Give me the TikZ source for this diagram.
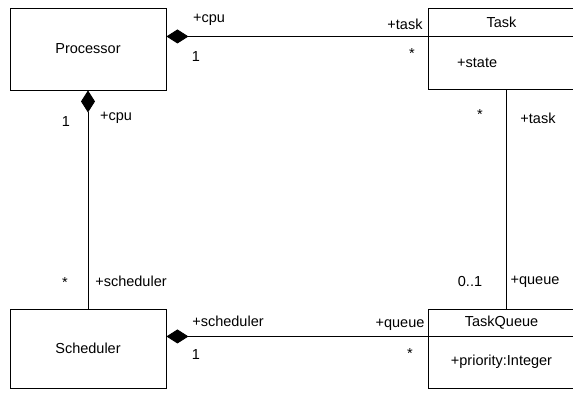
\documentclass[tikz,border=0pt]{standalone}
\usepackage{fontspec}
\setmainfont{Liberation Sans}
\usetikzlibrary{arrows.meta}
\begin{document}
\begin{tikzpicture}[x=1pt,y=-1pt,
  every node/.style={font=\fontsize{14.5}{16}\selectfont, inner sep=0pt},
  cls/.style={draw, line width=0.9pt, rectangle},
  assoc/.style={line width=0.9pt},
  comp/.style={line width=0.9pt, {Diamond[length=22pt,width=14pt]}-}]
\useasboundingbox (0,0) rectangle (573,392);
% classes
\node[cls, minimum width=156pt, minimum height=82pt] (proc) at (88,49) {Processor};
\node[cls, minimum width=156pt, minimum height=79pt] (sched) at (88,348.5) {Scheduler};
\node[cls, minimum width=147pt, minimum height=28pt] (taskh) at (501.5,22) {Task};
\node[cls, minimum width=147pt, minimum height=53pt] (taskb) at (501.5,62.5) {};
\node[anchor=west] (state) at (457,63) {+state};
\node[cls, minimum width=147pt, minimum height=27pt] (tqh) at (501.5,322.5) {TaskQueue};
\node[cls, minimum width=147pt, minimum height=52pt] (tqb) at (501.5,362) {+priority:Integer};
% connectors
\draw[comp] (proc.east |- taskh.south) -- (taskh.south west);
\draw[comp] (proc.south) -- (sched.north);
\draw[comp] (sched.east |- tqh.south) -- (tqh.south west);
\draw[assoc] ([xshift=4.5pt]taskb.south) -- ([xshift=4.5pt]tqh.north);
% role names and multiplicities
\node (l1) at (209,20) {+cpu};
\node (l2) at (196,57) {1};
\node (l3) at (405,24) {+task};
\node (l4) at (412,54) {*};
\node (l5) at (66,122) {1};
\node (l6) at (116,118) {+cpu};
\node (l7) at (480,115) {*};
\node (l8) at (538,118) {+task};
\node (l9) at (65,283) {*};
\node (l10) at (131,281) {+scheduler};
\node (l11) at (228,321) {+scheduler};
\node (l12) at (196,355) {1};
\node (l13) at (470,282) {0..1};
\node (l14) at (535,282) {+queue};
\node (l15) at (400,325) {+queue};
\node (l16) at (410,354) {*};
\end{tikzpicture}
\end{document}
